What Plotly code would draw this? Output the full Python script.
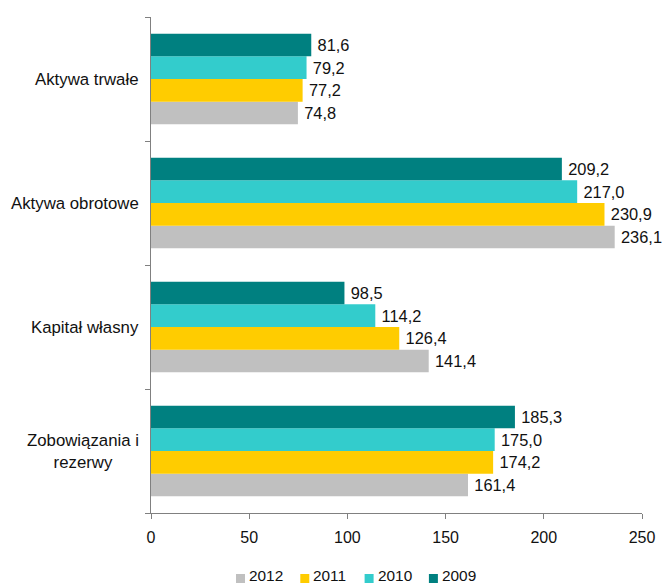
import plotly.graph_objects as go

# Balance sheet structure by year (values in billions)
categories = ["Aktywa trwałe", "Aktywa obrotowe", "Kapitał własny", "Zobowiązania i<br>rezerwy"]
years = ["2012", "2011", "2010", "2009"]
values = {
    "2012": [74.8, 236.1, 141.4, 161.4],
    "2011": [77.2, 230.9, 126.4, 174.2],
    "2010": [79.2, 217.0, 114.2, 175.0],
    "2009": [81.6, 209.2, 98.5, 185.3],
}
colors = {"2012": "#C0C0C0", "2011": "#FFCC00", "2010": "#33CCCC", "2009": "#008080"}
x_ticks = [0, 50, 100, 150, 200, 250]

font = "Liberation Sans, Arial, sans-serif"
ink = "#111111"

W, H = 671, 586
M_L, M_R, M_T, M_B = 151, 29, 17, 73
PW, PH = W - M_L - M_R, H - M_T - M_B


def px_to_paper_x(px):
    return (px - M_L) / PW


def px_to_paper_y(py):
    return (H - M_B - py) / PH


fig = go.Figure()
for yr in years:
    fig.add_trace(go.Bar(
        name=yr,
        y=categories,
        x=values[yr],
        orientation="h",
        marker=dict(color=colors[yr], line=dict(width=0)),
        text=["\u2009" + f"{v:.1f}".replace(".", ",") for v in values[yr]],
        textposition="outside",
        textfont=dict(family=font, size=16.4, color=ink),
        constraintext="none",
        cliponaxis=False,
        showlegend=False,
    ))

# Category labels: right-aligned block, lines centred within it
for cat in categories:
    fig.add_annotation(
        x=-0.021, xref="paper", xanchor="right",
        y=cat, yref="y", yanchor="middle",
        text=cat, showarrow=False, align="center",
        font=dict(family=font, size=16.8, color=ink),
    )

# Compact legend row below the axis: small square swatch followed by the year
legend_x0, legend_pitch, swatch_y = 236, 64.3, 578.5
text_bottom = 585
swatch = 9
for i, yr in enumerate(years):
    sx = legend_x0 + i * legend_pitch
    fig.add_shape(
        type="rect", xref="paper", yref="paper",
        x0=px_to_paper_x(sx), x1=px_to_paper_x(sx + swatch),
        y0=px_to_paper_y(swatch_y + swatch / 2), y1=px_to_paper_y(swatch_y - swatch / 2),
        fillcolor=colors[yr], line=dict(width=0),
    )
    fig.add_annotation(
        x=px_to_paper_x(sx + swatch + 3), xref="paper", xanchor="left",
        y=px_to_paper_y(text_bottom), yref="paper", yanchor="bottom",
        text=yr, showarrow=False, borderpad=0,
        font=dict(family=font, size=15.4, color=ink),
    )

fig.update_layout(
    width=W, height=H,
    margin=dict(l=M_L, r=M_R, t=M_T, b=M_B, autoexpand=False),
    barmode="group",
    bargap=0.27,
    bargroupgap=0,
    plot_bgcolor="white",
    paper_bgcolor="white",
    font=dict(family=font, size=16, color=ink),
    showlegend=False,
    xaxis=dict(
        range=[0, 250], tickvals=x_ticks, ticktext=[str(t) for t in x_ticks],
        showgrid=False, zeroline=False,
        showline=True, linecolor="#808080", linewidth=1,
        ticks="outside", ticklen=5, tickcolor="#808080",
        ticklabelstandoff=5,
        tickfont=dict(family=font, size=16, color=ink),
    ),
    yaxis=dict(
        type="category",
        categoryorder="array", categoryarray=categories[::-1],
        showgrid=False, zeroline=False,
        showline=True, linecolor="#808080", linewidth=1,
        ticks="outside", ticklen=5, tickcolor="#808080",
        tickson="boundaries",
        showticklabels=False,
    ),
)

fig.write_html("out.html")
